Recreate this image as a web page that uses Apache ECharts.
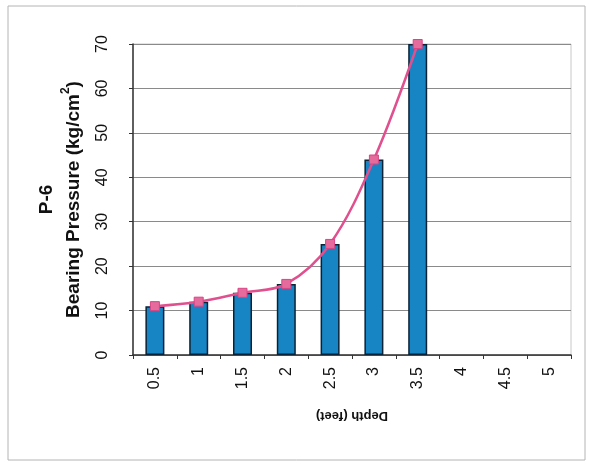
<!DOCTYPE html>
<html>
<head>
<meta charset="utf-8">
<script src="https://cdn.jsdelivr.net/npm/echarts@6/dist/echarts.min.js"></script>
<style>
  html, body { margin: 0; padding: 0; background: #fff; }
  #chart { width: 589px; height: 466px; }
</style>
</head>
<body>
<div id="chart"></div>
<script>
// Depth categories (feet) and measured bearing pressure (kg/cm²) for P-6
const depths = ['0.5', '1', '1.5', '2', '2.5', '3', '3.5', '4', '4.5', '5'];
const pressure = [11, 12, 14, 16, 25, 44, 70, null, null, null];
const yTicks = { min: 0, max: 70, step: 10 };

const FONT = '"Liberation Sans", Arial, sans-serif';

const chart = echarts.init(document.getElementById('chart'), null, { renderer: 'canvas' });

chart.setOption({
  backgroundColor: '#ffffff',
  animation: false,
  textStyle: { fontFamily: FONT },
  graphic: [{
    type: 'rect',
    shape: { x: 8, y: 6, width: 577, height: 454 },
    style: { fill: 'none', stroke: '#b4b4b4', lineWidth: 1 },
    silent: true
  }],
  grid: {
    left: 133, right: 18, top: 44, bottom: 111,
    show: true, borderColor: '#c8c8c8', borderWidth: 1
  },
  xAxis: {
    type: 'category',
    data: depths,
    boundaryGap: true,
    name: 'Depth (feet)',
    nameLocation: 'middle',
    nameRotate: 180,
    nameGap: 54,
    nameTextStyle: { fontFamily: FONT, fontWeight: 'bold', fontSize: 13, color: '#111' },
    axisLine: { lineStyle: { color: '#333', width: 1.5 } },
    axisTick: { show: true, alignWithLabel: false, length: 4, lineStyle: { color: '#333' } },
    axisLabel: { rotate: 90, fontSize: 16, color: '#111', margin: 12, fontFamily: FONT },
    splitLine: { show: false }
  },
  yAxis: {
    type: 'value',
    min: yTicks.min, max: yTicks.max, interval: yTicks.step,
    name: '{a|P-6}\n{a|Bearing Pressure (kg/cm}{s|2}{a|)}',
    nameLocation: 'middle',
    nameRotate: 90,
    nameGap: 45,
    nameTextStyle: {
      color: '#111',
      lineHeight: 27,
      rich: {
        a: { fontFamily: FONT, fontWeight: 'bold', fontSize: 19, color: '#111', lineHeight: 27 },
        s: { fontFamily: FONT, fontWeight: 'bold', fontSize: 12, color: '#111', verticalAlign: 'top', lineHeight: 27 }
      }
    },
    axisLine: { show: true, lineStyle: { color: '#333', width: 1.5 } },
    axisTick: { show: true, length: 4, lineStyle: { color: '#333' } },
    axisLabel: { rotate: 90, fontSize: 16, color: '#111', margin: 22, fontFamily: FONT },
    splitLine: { show: true, lineStyle: { color: '#8a8a8a', width: 1 } }
  },
  series: [
    {
      type: 'bar',
      data: pressure,
      barWidth: 19,
      itemStyle: { color: '#1785c4', borderColor: '#0b2236', borderWidth: 1.5 },
      z: 2
    },
    {
      type: 'line',
      data: pressure,
      smooth: 0.35,
      symbol: 'rect',
      symbolSize: 9,
      showSymbol: true,
      lineStyle: { color: '#e0508e', width: 2.5 },
      itemStyle: { color: '#e46b9c', borderColor: '#d94584', borderWidth: 1 },
      z: 3
    }
  ]
});
</script>
</body>
</html>
